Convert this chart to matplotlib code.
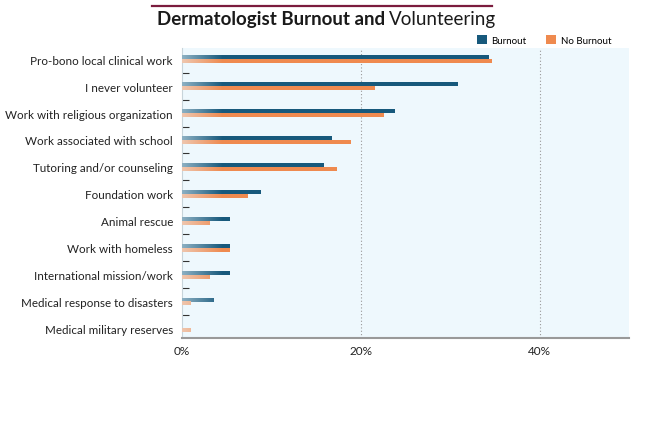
import numpy as np
import matplotlib
matplotlib.use("Agg")
import matplotlib.pyplot as plt
from matplotlib.patches import Patch
from matplotlib.colors import to_rgb

plt.rcParams['font.family'] = ['Lato', 'DejaVu Sans']

categories = [
    "Pro-bono local clinical work",
    "I never volunteer",
    "Work with religious organization",
    "Work associated with school",
    "Tutoring and/or counseling",
    "Foundation work",
    "Animal rescue",
    "Work with homeless",
    "International mission/work",
    "Medical response to disasters",
    "Medical military reserves",
]
burnout = [34.3, 30.8, 23.8, 16.7, 15.8, 8.8, 5.3, 5.3, 5.3, 3.5, 0.0]
no_burnout = [34.6, 21.5, 22.5, 18.9, 17.3, 7.3, 3.1, 5.3, 3.1, 1.0, 1.0]
xticks = [0, 20, 40]

blue = "#17597c"
orange = "#ef8a4f"

fig = plt.figure(figsize=(6.45, 4.39), dpi=100)
ax = fig.add_axes([182/645, 1-339/439, (629-182)/645, (339-49)/439])
ax.set_facecolor("#eef8fd")


def grad_bar(y, val, h, color):
    # bar drawn as an image: pale on the left, full colour after a short ramp
    if val <= 0:
        return
    n = 200
    xs = np.linspace(0, val, n)
    a = np.clip(0.45 + 0.55 * xs / 4.5, 0, 1)
    rgb = np.array(to_rgb(color))
    img = np.ones((1, n, 4))
    img[0, :, :3] = rgb * a[:, None] + (1 - a[:, None]) * np.array([0.93, 0.97, 0.99])
    ax.imshow(img, extent=[0, val, y + h/2, y - h/2], aspect='auto',
              interpolation='bilinear', zorder=3)


h = 0.13
for i in range(len(categories)):
    grad_bar(i - 0.07, burnout[i], h, blue)
    grad_bar(i + 0.07, no_burnout[i], h, orange)

ax.set_xlim(0, 50)
ax.set_ylim(10.34, -0.41)
ax.set_yticks(range(len(categories)))
ax.set_yticklabels(categories, fontsize=8.4, color="#222222")
ax.set_yticks(np.arange(0.5, len(categories) - 1, 1), minor=True)
ax.tick_params(axis='y', which='major', length=0, pad=6.5)
ax.tick_params(axis='y', which='minor', length=5, direction='in', color='#333333', width=0.8)
ax.set_xticks(xticks)
ax.set_xticklabels([f"{t}%" for t in xticks], fontsize=8.5, color="#222222")
ax.tick_params(axis='x', length=0, pad=5)
for t in xticks[1:]:
    ax.axvline(t, color="#999999", linestyle=(0, (1, 2)), linewidth=0.8, zorder=1)

for s in ['top', 'right']:
    ax.spines[s].set_visible(False)
ax.spines['bottom'].set_color("#999999")
ax.spines['bottom'].set_linewidth(1.5)
ax.spines['left'].set_color("#c8d4da")
ax.spines['left'].set_linewidth(0.8)

# title with bold / regular parts and a maroon rule above
fig.add_artist(plt.Line2D([152/645, 492/645], [1-7/439, 1-7/439], color="#7b1c3e", linewidth=1.6))
fig.text(385/645, 1-20/439, "Dermatologist Burnout and", fontsize=13.5, fontweight='bold',
         ha='right', va='center', color="#1a1a1a")
fig.text(389/645, 1-20/439, "Volunteering", fontsize=13.5, ha='left', va='center', color="#1a1a1a")

handles = [Patch(facecolor=blue, label="Burnout"), Patch(facecolor=orange, label="No Burnout")]
fig.legend(handles=handles, loc='center right', bbox_to_anchor=(620/645, 1-41/439), ncol=2,
           frameon=False, fontsize=7, handlelength=1.0, handleheight=1.0,
           handletextpad=0.5, columnspacing=2.0)

fig.savefig("out.png", dpi=100)
